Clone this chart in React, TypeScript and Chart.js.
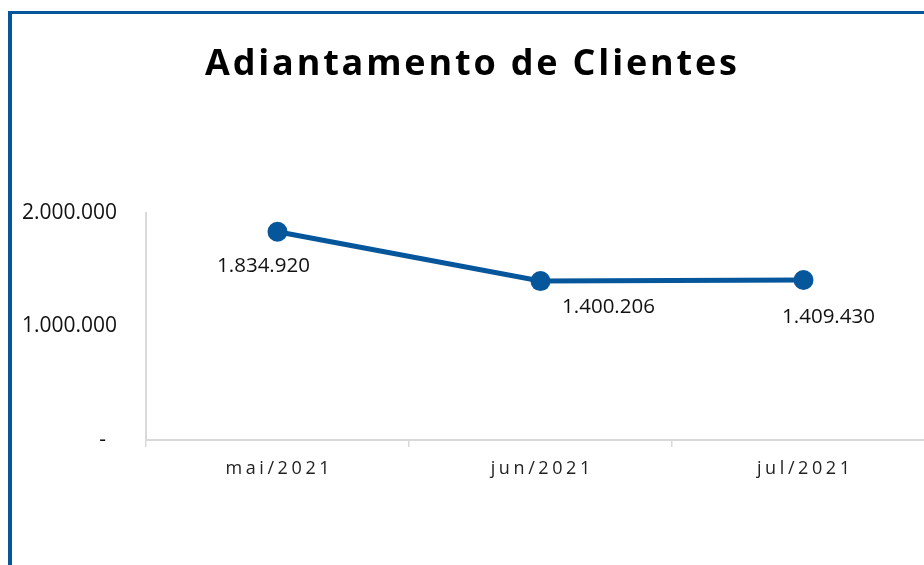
import { useEffect, useRef } from 'react';
import { Chart, registerables } from 'chart.js';

Chart.register(...registerables);

const chartTitle = 'Adiantamento de Clientes';
const categories = ['mai/2021', 'jun/2021', 'jul/2021'];
const values = [1834920, 1400206, 1409430];
const yMin = 0;
const yMax = 2000000;
const yStep = 1000000;

// style: manual data-label offsets (px) relative to each point
const labelOffsets = [
  [-14, 34],
  [68, 26],
  [25, 37],
];

const BLUE = '#06569C';
const FONT = '"Open Sans", "DejaVu Sans", sans-serif';

const fmt = (v: number) =>
  String(Math.round(v)).replace(/\B(?=(\d{3})+(?!\d))/g, '.');

const W = 945;
const H = 565;

const decorPlugin = {
  id: 'decor',
  afterDatasetsDraw(chart: any) {
    const ctx = chart.ctx as CanvasRenderingContext2D;
    const meta = chart.getDatasetMeta(0);
    ctx.save();
    ctx.font = `20.5px ${FONT}`;
    ctx.fillStyle = '#111';
    ctx.textAlign = 'center';
    ctx.textBaseline = 'middle';
    meta.data.forEach((pt: any, i: number) => {
      const off = labelOffsets[i] || [0, 30];
      ctx.fillText(fmt(values[i]), pt.x + off[0], pt.y + off[1]);
    });
    ctx.restore();
  },
  afterDraw(chart: any) {
    const ctx = chart.ctx as CanvasRenderingContext2D;
    // x category labels with letter spacing
    const xs = chart.scales.x;
    ctx.save();
    ctx.font = `18px ${FONT}`;
    (ctx as any).letterSpacing = '3.6px';
    ctx.fillStyle = '#222';
    ctx.textAlign = 'left';
    ctx.textBaseline = 'middle';
    categories.forEach((c, i) => {
      const x = xs.getPixelForValue(i);
      const w = ctx.measureText(c).width - 3.6;
      ctx.fillText(c, x - w / 2, 468.5);
    });
    ctx.restore();

    // title
    ctx.save();
    ctx.font = `bold 36px ${FONT}`;
    (ctx as any).letterSpacing = '0px';
    const natural = ctx.measureText(chartTitle).width;
    const target = 532;
    const sp = Math.max(0, (target - natural) / (chartTitle.length - 1));
    (ctx as any).letterSpacing = `${sp}px`;
    ctx.fillStyle = '#000';
    ctx.textAlign = 'left';
    ctx.textBaseline = 'alphabetic';
    const tw = ctx.measureText(chartTitle).width - sp;
    ctx.fillText(chartTitle, 471 - tw / 2, 75);
    ctx.restore();

    // frame
    ctx.save();
    ctx.fillStyle = BLUE;
    ctx.fillRect(8, 11, 4, H);
    ctx.fillRect(8, 11, W, 3);
    ctx.restore();
  },
};

export default function App() {
  const ref = useRef<HTMLCanvasElement | null>(null);

  useEffect(() => {
    if (!ref.current) return;
    const chart = new Chart(ref.current, {
      type: 'line',
      data: {
        labels: categories,
        datasets: [
          {
            data: values,
            borderColor: BLUE,
            backgroundColor: BLUE,
            borderWidth: 5,
            pointRadius: 10,
            pointHoverRadius: 10,
            pointBackgroundColor: BLUE,
            pointBorderColor: BLUE,
            pointBorderWidth: 0,
            tension: 0,
            clip: false as any,
          },
        ],
      },
      options: {
        responsive: false,
        animation: false,
        devicePixelRatio: 1,
        layout: { padding: { top: 213, right: 0, bottom: 0, left: 0 } },
        plugins: {
          legend: { display: false },
          title: { display: false },
          tooltip: { enabled: false },
        },
        scales: {
          x: {
            type: 'category',
            offset: true,
            grid: {
              offset: true,
              drawOnChartArea: false,
              drawTicks: true,
              tickLength: 7,
              color: '#d9d9d9',
              lineWidth: 1.5,
            },
            border: { display: true, color: '#d9d9d9', width: 2 },
            ticks: { display: false },
            afterFit: (s: any) => {
              s.height = 125;
            },
          },
          y: {
            min: yMin,
            max: yMax,
            grid: { drawOnChartArea: false, drawTicks: false },
            border: { display: true, color: '#d9d9d9', width: 2 },
            ticks: {
              stepSize: yStep,
              padding: 29,
              color: '#111',
              font: { size: 21, family: FONT },
              callback: (v: any) => (Number(v) === 0 ? '-  ' : fmt(Number(v))),
            },
            afterFit: (s: any) => {
              s.width = 146;
            },
          },
        },
      },
      plugins: [decorPlugin],
    });
    return () => chart.destroy();
  }, []);

  return (
    <div
      style={{
        position: 'fixed',
        left: 0,
        top: 0,
        width: 924,
        height: 565,
        overflow: 'hidden',
        background: '#fff',
      }}
    >
      <canvas ref={ref} width={W} height={H} style={{ width: W, height: H, display: 'block' }} />
    </div>
  );
}
